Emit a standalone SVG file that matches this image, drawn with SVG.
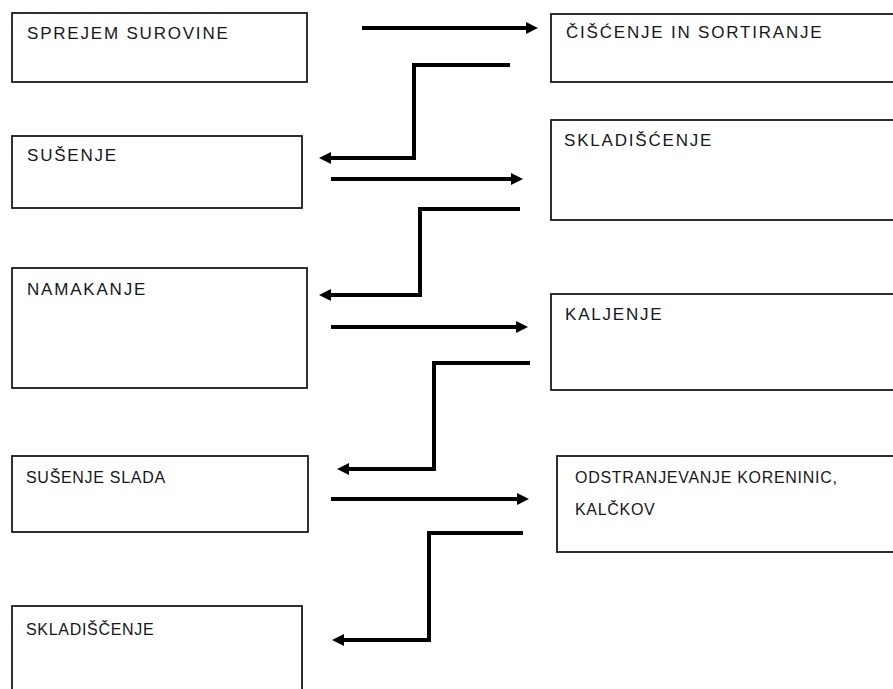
<svg xmlns="http://www.w3.org/2000/svg" width="893" height="689" viewBox="0 0 893 689">
<defs>
<style>
.box{fill:#fff;stroke:#1a1a1a;stroke-width:1.8}
.t1{font-family:"Liberation Sans",Arial,sans-serif;font-size:17px;letter-spacing:1.8px;fill:#161620}
.t2{font-family:"Liberation Sans",Arial,sans-serif;font-size:16px;letter-spacing:0.7px;fill:#161620}
.c{fill:none;stroke:#000;stroke-width:4;stroke-linejoin:miter;stroke-linecap:butt}
</style>
<marker id="ah" markerUnits="userSpaceOnUse" markerWidth="12" markerHeight="12" viewBox="0 0 12 12" refX="2" refY="6" orient="auto">
<path d="M0,0 L12,6 L0,12 Z" fill="#000"/>
</marker>
</defs>
<rect width="893" height="689" fill="#fff"/>
<g id="n1"><rect class="box" x="12" y="13" width="295" height="69"/><text class="t1" x="27" y="39">SPREJEM SUROVINE</text></g>
<g id="n2"><rect class="box" x="551" y="14" width="400" height="68"/><text class="t1" x="566" y="38">ČIŠĆENJE IN SORTIRANJE</text></g>
<g id="n3"><rect class="box" x="12" y="136" width="290" height="72"/><text class="t1" x="27" y="161">SUŠENJE</text></g>
<g id="n4"><rect class="box" x="551" y="120" width="400" height="100"/><text class="t1" x="564" y="146">SKLADIŠĆENJE</text></g>
<g id="n5"><rect class="box" x="12" y="268" width="295" height="120"/><text class="t1" x="27" y="295">NAMAKANJE</text></g>
<g id="n6"><rect class="box" x="551" y="294" width="400" height="96"/><text class="t1" x="565" y="320">KALJENJE</text></g>
<g id="n7"><rect class="box" x="12" y="456" width="296" height="76"/><text class="t2" x="26" y="483">SUŠENJE SLADA</text></g>
<g id="n8"><rect class="box" x="557" y="456" width="400" height="96"/><text class="t2" x="575" y="483">ODSTRANJEVANJE KORENINIC,</text><text class="t2" x="575" y="515">KALČKOV</text></g>
<g id="n9"><rect class="box" x="12" y="606" width="290" height="100"/><text class="t2" x="26" y="635">SKLADIŠČENJE</text></g>
<g id="connectors">
<path class="c" marker-end="url(#ah)" d="M362,28 H528"/>
<path class="c" marker-end="url(#ah)" d="M510,65 H414 V158 H329"/>
<path class="c" marker-end="url(#ah)" d="M331,179 H513"/>
<path class="c" marker-end="url(#ah)" d="M520,209 H420 V295 H329"/>
<path class="c" marker-end="url(#ah)" d="M331,327 H518"/>
<path class="c" marker-end="url(#ah)" d="M530,363 H434 V469 H347"/>
<path class="c" marker-end="url(#ah)" d="M331,499 H519"/>
<path class="c" marker-end="url(#ah)" d="M523,533 H429 V640 H342"/>
</g>
</svg>
